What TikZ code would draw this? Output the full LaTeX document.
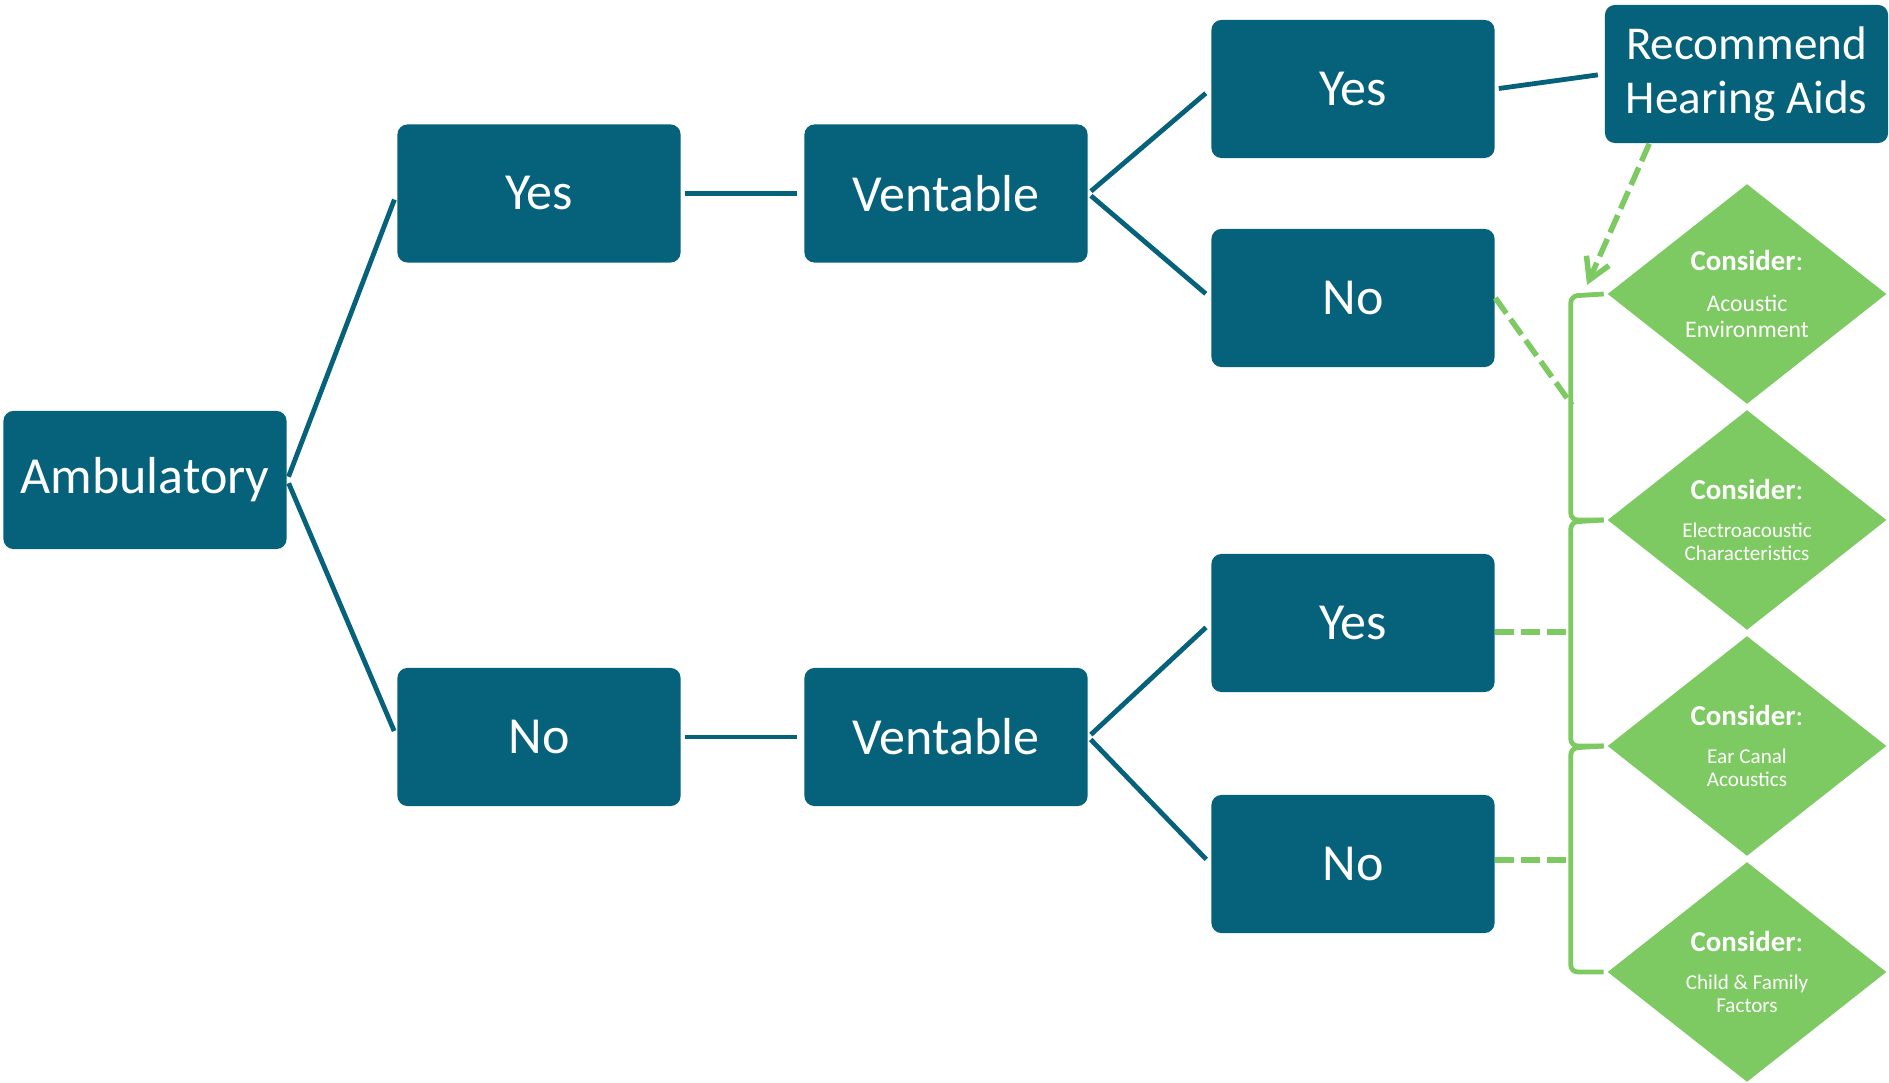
\documentclass[tikz,border=0pt]{standalone}
\usepackage{fontspec}
\setmainfont{Carlito}
\usetikzlibrary{arrows.meta,calc,shapes.geometric}
\definecolor{deepteal}{RGB}{5,98,122}
\definecolor{leafgreen}{RGB}{125,202,98}

\begin{document}
\begin{tikzpicture}[x=0.01cm,y=-0.01cm,
  box/.style={fill=deepteal,text=white,rounded corners=0.1cm,minimum width=2.83cm,
    minimum height=1.38cm,inner sep=0pt,font=\fontsize{14.8}{17}\selectfont},
  consider/.style={diamond,fill=leafgreen,text=white,minimum width=2.79cm,minimum height=2.2cm,
    aspect=1.27,inner sep=0pt,align=center},
  link/.style={deepteal,line width=0.048cm,shorten <=0.035cm,shorten >=0.065cm},
  hint/.style={leafgreen,line width=0.055cm,dash pattern=on 0.19cm off 0.07cm},
  bracket/.style={leafgreen,line width=0.048cm,rounded corners=2pt}]
  \useasboundingbox (0,0) rectangle (1889,1083);

  \node[box] (amb) at (145,480) {Ambulatory};
  \node[box] (yes) at (539,193.5) {Yes};
  \node[box] (no) at (539,737) {No};
  \node[box] (ventY) at (946,193.5) {Ventable};
  \node[box] (ventN) at (946,737) {Ventable};
  \node[box] (yesY) at (1353,89) {Yes};
  \node[box] (noY) at (1353,298) {No};
  \node[box] (yesN) at (1353,623) {Yes};
  \node[box] (noN) at (1353,864) {No};
  \node[box,align=center,font=\fontsize{13.4}{15.2}\selectfont] (rec) at (1746.5,74) {Recommend\\Hearing Aids};

  \foreach \i/\y/\fs/\bs/\txt in {1/294/6.75/7.4/{Acoustic\\Environment},
      2/520/6/6.6/{Electroacoustic\\Characteristics},
      3/746/6/6.6/{Ear Canal\\Acoustics},
      4/972/6/6.6/{Child \& Family\\Factors}}
    \node[consider,font=\fontsize{\fs}{\bs}\selectfont] (con\i) at (1747,\y)
      {{\bfseries\fontsize{8.2}{9}\selectfont Consider}{\fontsize{8.2}{9}\selectfont:}\\[4.2pt]\txt};

  \draw[link] (amb.east) -- (yes.west);
  \draw[link] (amb.east) -- (no.west);
  \draw[link] (yes.east) -- (ventY.west);
  \draw[link] (no.east) -- (ventN.west);
  \draw[link] (ventY.east) -- (yesY.west);
  \draw[link] (ventY.east) -- (noY.west);
  \draw[link] (ventN.east) -- (yesN.west);
  \draw[link] (ventN.east) -- (noN.west);
  \draw[link] (yesY.east) -- (rec.west);

  \foreach \a/\b in {con1/con2,con2/con3,con3/con4}
    \draw[bracket] ([xshift=-0.03cm]\a.west) -- ++(-33,2) |- ([xshift=-0.03cm]\b.west);

  \coordinate (j1) at (1572,405);
  \coordinate (j2) at (1572,632);
  \coordinate (j3) at (1572,860);
  \coordinate (tip) at (1587,285);
  \draw[hint] (noY.east) -- (j1);
  \draw[hint] (yesN.east |- j2) -- (j2);
  \draw[hint] (noN.east |- j3) -- (j3);
  \draw[hint,-{Straight Barb[length=6pt,width=7pt]}] ($(rec.south west)+(45,0)$) -- (tip);
\end{tikzpicture}
\end{document}
